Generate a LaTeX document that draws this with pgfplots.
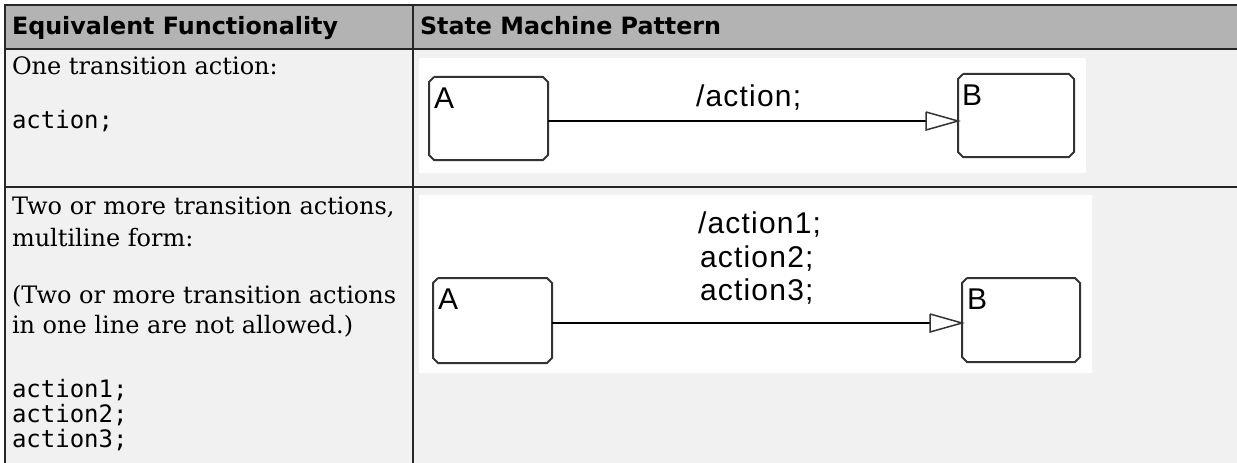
\documentclass[border=0pt]{standalone}
\usepackage{fontspec}
\setmainfont{DejaVu Serif}
\newfontfamily\hdrfont{DejaVu Sans}
\newfontfamily\monofont{DejaVu Sans Mono}
\newfontfamily\diagfont[LetterSpace=4]{Liberation Sans}
\usepackage{pgfplots}
\pgfplotsset{compat=1.18}
\definecolor{hdrgray}{HTML}{B3B3B3}
\definecolor{bodygray}{HTML}{F1F1F1}
\definecolor{linec}{HTML}{262626}
\definecolor{statec}{HTML}{333333}
\tikzset{tx/.style={inner sep=0pt, outer sep=0pt, anchor=base west}}
\begin{document}
\begin{tikzpicture}
\begin{axis}[width=1237bp, height=463bp, scale only axis,
  xmin=0, xmax=1237, ymin=0, ymax=463, y dir=reverse,
  hide axis, clip=true]
% backgrounds
\addplot[fill=white, draw=none] coordinates {(0,0)(1237,0)(1237,463)(0,463)};
\addplot[fill=hdrgray, draw=none] coordinates {(5,5)(1237,5)(1237,49)(5,49)};
\addplot[fill=bodygray, draw=none] coordinates {(5,49)(1237,49)(1237,463)(5,463)};
\addplot[fill=white, draw=none] coordinates {(419,58)(1086,58)(1086,173)(419,173)};
\addplot[fill=white, draw=none] coordinates {(419,195)(1092,195)(1092,373)(419,373)};
% grid lines
\addplot[linec, line width=2bp] coordinates {(5,5)(1237,5)};
\addplot[linec, line width=1.6bp] coordinates {(5,49)(1237,49)};
\addplot[linec, line width=1.6bp] coordinates {(5,187)(1237,187)};
\addplot[linec, line width=2bp] coordinates {(5,4)(5,463)};
\addplot[linec, line width=1.6bp] coordinates {(413,5)(413,463)};
% states row 1
\addplot[statec, line width=2bp, fill=white] coordinates {(434,77)(543,77)(548,82)(548,155)(543,160)(434,160)(429,155)(429,82)(434,77)};
\addplot[statec, line width=2bp, fill=white] coordinates {(963,74)(1069,74)(1074,79)(1074,152)(1069,157)(963,157)(958,152)(958,79)(963,74)};
\addplot[black, line width=1.5bp] coordinates {(548,121)(926,121)};
\addplot[statec, line width=1.5bp, fill=white] coordinates {(926,112)(926,130)(958,121)(926,112)};
% states row 2
\addplot[statec, line width=2bp, fill=white] coordinates {(438,278)(547,278)(552,283)(552,358)(547,363)(438,363)(433,358)(433,283)(438,278)};
\addplot[statec, line width=2bp, fill=white] coordinates {(967,278)(1075,278)(1080,283)(1080,357)(1075,362)(967,362)(962,357)(962,283)(967,278)};
\addplot[black, line width=1.5bp] coordinates {(552,323)(930,323)};
\addplot[statec, line width=1.5bp, fill=white] coordinates {(930,314)(930,332)(962,323)(930,314)};
% header text
\node[tx] at (axis cs:12,35) {\hdrfont\bfseries\fontsize{23.8bp}{27bp}\selectfont Equivalent Functionality};
\node[tx] at (axis cs:420,35) {\hdrfont\bfseries\fontsize{23.8bp}{27bp}\selectfont State Machine Pattern};
% left column text
\node[tx] at (axis cs:12,75) {\fontsize{24bp}{30bp}\selectfont One transition action:};
\node[tx] at (axis cs:12,128) {\monofont\fontsize{24bp}{26bp}\selectfont action;};
\node[tx] at (axis cs:12,214) {\fontsize{24bp}{30bp}\selectfont Two or more transition actions,};
\node[tx] at (axis cs:12,246) {\fontsize{24bp}{30bp}\selectfont multiline form:};
\node[tx] at (axis cs:12,303) {\fontsize{24bp}{30bp}\selectfont (Two or more transition actions};
\node[tx] at (axis cs:12,333) {\fontsize{24bp}{30bp}\selectfont in one line are not allowed.)};
\node[tx] at (axis cs:12,397) {\monofont\fontsize{24bp}{26bp}\selectfont action1;};
\node[tx] at (axis cs:12,422) {\monofont\fontsize{24bp}{26bp}\selectfont action2;};
\node[tx] at (axis cs:12,447) {\monofont\fontsize{24bp}{26bp}\selectfont action3;};
% diagram text
\node[tx] at (axis cs:434,108) {\diagfont\fontsize{30bp}{34bp}\selectfont A};
\node[tx] at (axis cs:962,105) {\diagfont\fontsize{30bp}{34bp}\selectfont B};
\node[tx] at (axis cs:696,106) {\diagfont\fontsize{30bp}{34bp}\selectfont /action;};
\node[tx] at (axis cs:438,309) {\diagfont\fontsize{30bp}{34bp}\selectfont A};
\node[tx] at (axis cs:967,309) {\diagfont\fontsize{30bp}{34bp}\selectfont B};
\node[tx] at (axis cs:698,233) {\diagfont\fontsize{30bp}{34bp}\selectfont /action1;};
\node[tx] at (axis cs:700,267) {\diagfont\fontsize{30bp}{34bp}\selectfont action2;};
\node[tx] at (axis cs:700,300) {\diagfont\fontsize{30bp}{34bp}\selectfont action3;};
\end{axis}
\end{tikzpicture}
\end{document}
